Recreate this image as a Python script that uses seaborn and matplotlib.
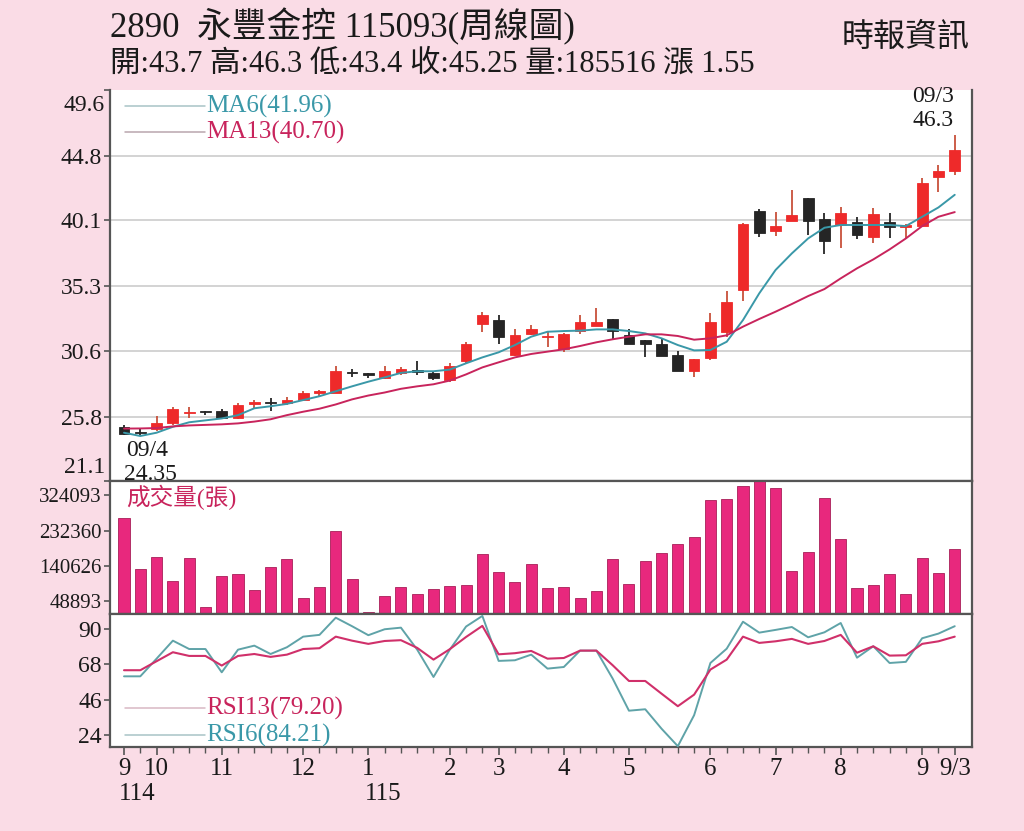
import matplotlib
matplotlib.use("Agg")
import matplotlib.pyplot as plt
import matplotlib.ticker as mticker
import matplotlib.transforms as mtransforms
import numpy as np
import pandas as pd
import seaborn as sns

# ── weekly data ──────────────────────────────────────────
OPEN = [25.06, 24.67, 24.92, 25.30, 26.03, 26.23, 26.18, 25.67, 26.71, 26.88,
        26.76, 27.01, 27.54, 27.54, 29.05, 28.95, 28.61, 28.95, 29.19, 29.00,
        28.46, 29.84, 32.52, 32.83, 30.28, 31.79, 31.58, 30.69, 32.05, 32.42,
        32.90, 31.74, 31.38, 31.06, 30.28, 29.14, 30.04, 31.93, 35.02, 40.80,
        39.34, 40.07, 41.75, 40.17, 39.76, 40.00, 38.91, 39.98, 39.64, 39.68,
        43.28, 43.70]
HIGH = [25.18, 24.92, 25.84, 26.47, 26.47, 26.23, 26.37, 26.76, 27.01, 27.15,
        27.25, 27.64, 27.73, 29.48, 29.29, 28.95, 29.48, 29.44, 29.87, 29.10,
        29.70, 31.23, 33.42, 33.22, 32.15, 32.49, 31.95, 31.86, 33.20, 33.68,
        32.90, 32.15, 31.38, 31.45, 30.60, 29.97, 33.32, 34.97, 39.88, 40.92,
        40.70, 42.31, 41.75, 40.61, 41.04, 40.36, 40.97, 40.61, 39.83, 43.16,
        44.13, 46.30]
LOW = [24.43, 24.35, 24.77, 25.21, 25.69, 25.89, 25.60, 25.62, 26.37, 26.23,
       26.62, 26.91, 27.25, 27.49, 28.71, 28.61, 28.56, 28.85, 28.82, 28.45,
       28.35, 29.72, 31.98, 31.08, 30.21, 31.76, 30.88, 30.52, 31.81, 32.42,
       31.42, 31.06, 30.11, 30.23, 29.12, 28.65, 29.92, 31.62, 34.22, 38.91,
       38.96, 40.07, 39.03, 37.62, 38.06, 38.71, 38.42, 38.79, 38.79, 39.64,
       42.19, 43.40]
CLOSE = [24.53, 24.58, 25.35, 26.33, 26.13, 26.13, 25.69, 26.64, 26.86, 26.76,
         27.01, 27.54, 27.64, 29.10, 28.95, 28.85, 29.14, 29.30, 29.04, 28.62,
         29.50, 31.08, 33.20, 31.62, 31.74, 32.15, 31.70, 31.79, 32.71, 32.71,
         32.05, 31.06, 31.06, 30.23, 29.12, 29.97, 32.71, 34.17, 39.81, 39.20,
         39.68, 40.49, 40.05, 38.59, 40.61, 39.00, 40.53, 39.64, 39.76, 42.84,
         43.70, 45.25]
MA6 = [24.62, 24.38, 24.62, 25.05, 25.38, 25.52, 25.66, 25.90, 26.40, 26.55,
       26.72, 27.00, 27.28, 27.64, 28.00, 28.34, 28.65, 28.98, 29.10, 29.10,
       29.22, 29.68, 30.11, 30.48, 31.01, 31.62, 31.98, 32.03, 32.06, 32.15,
       32.15, 32.03, 31.86, 31.50, 31.01, 30.62, 30.65, 31.25, 32.83, 34.78,
       36.48, 37.69, 38.78, 39.56, 39.76, 39.76, 39.76, 39.76, 39.68, 40.36,
       41.04, 41.96]
MA13 = [24.92, 24.93, 24.96, 25.08, 25.15, 25.19, 25.23, 25.30, 25.43, 25.60,
        25.90, 26.15, 26.37, 26.68, 27.05, 27.33, 27.55, 27.82, 28.00, 28.15,
        28.42, 28.87, 29.38, 29.75, 30.11, 30.36, 30.53, 30.70, 30.94, 31.21,
        31.43, 31.62, 31.79, 31.79, 31.67, 31.40, 31.50, 31.72, 32.35, 32.91,
        33.44, 34.00, 34.58, 35.09, 35.87, 36.60, 37.25, 37.98, 38.78, 39.68,
        40.36, 40.70]
VOLUME = [265000, 133000, 163000, 100000, 161000, 33000, 113000, 119000, 77000, 137000,
          159000, 55000, 86000, 230000, 107000, 20000, 62000, 86000, 66000, 80000,
          87000, 91000, 171000, 125000, 99000, 144000, 81000, 85000, 57000, 74000,
          158000, 92000, 152000, 175000, 198000, 216000, 312000, 316000, 349000, 361000,
          343000, 127000, 176000, 317000, 211000, 83000, 91000, 118000, 67000, 162000,
          122000, 185516]
RSI13 = [64.3, 64.3, 69.9, 75.5, 73.2, 73.2, 67.2, 73.2, 74.4, 72.6,
         74.0, 77.5, 78.0, 85.2, 82.7, 80.7, 82.5, 83.0, 78.2, 70.9,
         77.4, 85.0, 91.9, 74.2, 74.9, 76.3, 71.5, 71.9, 76.5, 76.5,
         67.4, 57.6, 57.6, 49.7, 41.9, 49.1, 64.7, 70.9, 85.2, 81.3,
         82.3, 83.8, 80.7, 82.5, 86.3, 75.2, 79.2, 73.4, 73.6, 80.7,
         82.3, 85.2]
RSI6 = [60.5, 60.5, 71.5, 82.7, 77.5, 77.5, 63.0, 77.1, 79.6, 74.4,
        78.6, 85.2, 86.3, 97.0, 91.7, 86.1, 89.8, 90.8, 77.1, 60.1,
        77.1, 91.5, 98.1, 70.1, 70.5, 74.0, 65.3, 66.3, 76.5, 76.5,
        59.1, 39.1, 40.0, 27.9, 17.0, 36.3, 68.8, 77.7, 94.5, 87.7,
        89.4, 91.2, 84.8, 87.9, 93.7, 72.1, 79.2, 68.8, 69.5, 84.2,
        87.1, 91.7]

PRICE_TICKS = [21.1, 25.8, 30.6, 35.3, 40.1, 44.8, 49.6]
VOL_TICKS = [48893, 140626, 232360, 324093]
RSI_TICKS = [24, 46, 68, 90]
MONTH_POS = [0, 2, 6, 11, 15, 20, 23, 27, 31, 36, 40, 44, 49, 51]
MONTH_LABELS = ["9", "10", "11", "12", "1", "2", "3", "4", "5", "6", "7", "8", "9", "9/3"]

# ── style ────────────────────────────────────────────────
sns.set_theme(style="white")
plt.rcParams["font.family"] = ["Liberation Serif", "Noto Sans CJK TC"]

BG = "#FADCE6"
RED = "#EE2A2A"
BLACK = "#252525"
TEAL = "#3A98A8"
CRIMSON = "#C8245C"
VOLC = "#E8287D"
SPINE = "#555555"
INK = "#1A1A1A"

W_PX, H_PX = 1024, 831
fig = plt.figure(figsize=(W_PX / 100, H_PX / 100), dpi=100, facecolor=BG)

def fx(x):
    return x / W_PX

def fy(y):
    return 1 - y / H_PX

L, R = 110, 972
ax_p = fig.add_axes([fx(L), fy(481), fx(R - L), 391 / H_PX])
ax_v = fig.add_axes([fx(L), fy(614), fx(R - L), 133 / H_PX], sharex=ax_p)
ax_r = fig.add_axes([fx(L), fy(747), fx(R - L), 133 / H_PX], sharex=ax_p)

weeks = np.arange(len(CLOSE))
df = pd.DataFrame({"week": weeks, "open": OPEN, "high": HIGH, "low": LOW,
                   "close": CLOSE, "ma6": MA6, "ma13": MA13,
                   "volume": VOLUME, "rsi13": RSI13, "rsi6": RSI6})

# ── price panel ──────────────────────────────────────────
for y in PRICE_TICKS[1:-1]:
    ax_p.axhline(y, color="#D0D0D0", lw=1.3, zorder=0)

for _, r in df.iterrows():
    up = r["close"] >= r["open"]
    body_c = RED if up else BLACK
    wick_c = "#C8503A" if up else BLACK
    ax_p.vlines(r["week"], r["low"], r["high"], color=wick_c, lw=1.3, zorder=2)
    lo = min(r["open"], r["close"])
    h = max(abs(r["close"] - r["open"]), 0.09)
    ax_p.bar(r["week"], h, bottom=lo, width=0.66, color=body_c,
             edgecolor=body_c, lw=0.6, zorder=3)

sns.lineplot(data=df, x="week", y="ma6", ax=ax_p, color=TEAL, lw=1.4, zorder=4)
sns.lineplot(data=df, x="week", y="ma13", ax=ax_p, color=CRIMSON, lw=1.4, zorder=4)

ax_p.set_ylim(21.1, 49.6)
ax_p.set_yticks(PRICE_TICKS)
# top and bottom labels are drawn nudged inside the panel, as in the original
ax_p.set_yticklabels([""] + [f"{t:.1f}" for t in PRICE_TICKS[1:-1]] + [""])
ytr = ax_p.get_yaxis_transform()
ax_p.text(-0.006, 49.6, "49.6", transform=ytr + mtransforms.ScaledTranslation(0, -5 / 100, fig.dpi_scale_trans),
          ha="right", va="top", fontsize=17, color=INK, clip_on=False)
ax_p.text(-0.006, 21.1, "21.1", transform=ytr + mtransforms.ScaledTranslation(0, 3 / 100, fig.dpi_scale_trans),
          ha="right", va="bottom", fontsize=17, color=INK, clip_on=False)

# ── volume panel ─────────────────────────────────────────
sns.barplot(data=df, x="week", y="volume", ax=ax_v, native_scale=True,
            color=VOLC, saturation=1, width=0.68, edgecolor="#A81E58",
            linewidth=0.6, zorder=2)
ax_v.set_ylim(14300, 362000)
ax_v.set_yticks(VOL_TICKS)
ax_v.set_yticklabels([str(t) for t in VOL_TICKS])

# ── RSI panel ────────────────────────────────────────────
sns.lineplot(data=df, x="week", y="rsi6", ax=ax_r, color="#5FA3A8", lw=1.4, zorder=3)
sns.lineplot(data=df, x="week", y="rsi13", ax=ax_r, color="#D0306A", lw=1.5, zorder=3)
ax_r.set_ylim(16.5, 99.3)
ax_r.set_yticks(RSI_TICKS)

# ── shared axis cosmetics ────────────────────────────────
ax_p.set_xlim(-0.86, 52.06)
for ax in (ax_p, ax_v, ax_r):
    ax.set_facecolor("white")
    ax.set_xlabel("")
    ax.set_ylabel("")
    for side in ("left", "right", "bottom", "top"):
        ax.spines[side].set_color(SPINE)
        ax.spines[side].set_linewidth(1.6)
    ax.tick_params(axis="y", direction="out", length=4, width=1.2,
                   color=SPINE, labelcolor=INK, pad=2, left=True)
ax_p.spines["top"].set_visible(False)
ax_p.tick_params(axis="y", labelsize=17)
ax_v.tick_params(axis="y", labelsize=15)
ax_r.tick_params(axis="y", labelsize=17)
for ax in (ax_p, ax_v):
    ax.tick_params(axis="x", which="both", bottom=False, labelbottom=False)

ax_r.xaxis.set_major_locator(mticker.FixedLocator(MONTH_POS))
ax_r.xaxis.set_major_formatter(mticker.FixedFormatter(MONTH_LABELS))
ax_r.xaxis.set_minor_locator(mticker.FixedLocator(weeks))
ax_r.tick_params(axis="x", which="major", direction="out", length=6, width=1.2,
                 color=SPINE, labelsize=18, labelcolor=INK, pad=2, bottom=True)
ax_r.tick_params(axis="x", which="minor", direction="out", length=4, width=1.0,
                 color=SPINE, bottom=True)

# year labels under the first month of each year
tr = ax_r.get_xaxis_transform()
ax_r.text(-0.3, -0.27, "114", transform=tr, ha="left", va="top",
          fontsize=18, color=INK, clip_on=False)
ax_r.text(14.8, -0.27, "115", transform=tr, ha="left", va="top",
          fontsize=18, color=INK, clip_on=False)

# ── legends drawn as text + short lines ──────────────────
def legend_row(y_px, txt, col, line_col):
    fig.add_artist(plt.Line2D([fx(125), fx(205)], [fy(y_px), fy(y_px)],
                              color=line_col, lw=1.1, transform=fig.transFigure))
    fig.text(fx(206), fy(y_px), txt, color=col, fontsize=18, ha="left", va="center")

legend_row(106, "MA6(41.96)", TEAL, "#A8C4C6")
legend_row(132, "MA13(40.70)", CRIMSON, "#B9A6AE")
legend_row(708, "RSI13(79.20)", CRIMSON, "#D8B8C4")
legend_row(735, "RSI6(84.21)", TEAL, "#A8C4C6")

fig.text(fx(126), fy(497), "成交量(張)", color=CRIMSON, fontsize=17,
         ha="left", va="center")

# ── annotations ──────────────────────────────────────────
fig.text(fx(933), fy(97), "09/3", fontsize=17, ha="center", va="center", color=INK)
fig.text(fx(933), fy(121), "46.3", fontsize=17, ha="center", va="center", color=INK)
fig.text(fx(126), fy(451), "09/4", fontsize=17, ha="left", va="center", color=INK)
fig.text(fx(124), fy(475), "24.35", fontsize=17, ha="left", va="center", color=INK)

# ── header ───────────────────────────────────────────────
fig.text(fx(110), fy(27), "2890  永豐金控 115093(周線圖)", fontsize=25,
         ha="left", va="center", color=INK)
fig.text(fx(110), fy(64), "開:43.7 高:46.3 低:43.4 收:45.25 量:185516 漲 1.55",
         fontsize=22, ha="left", va="center", color=INK)
fig.text(fx(970), fy(38), "時報資訊", fontsize=23, ha="right", va="center",
         color=INK)

fig.savefig("out.png", dpi=100, facecolor=BG)
plt.close(fig)
